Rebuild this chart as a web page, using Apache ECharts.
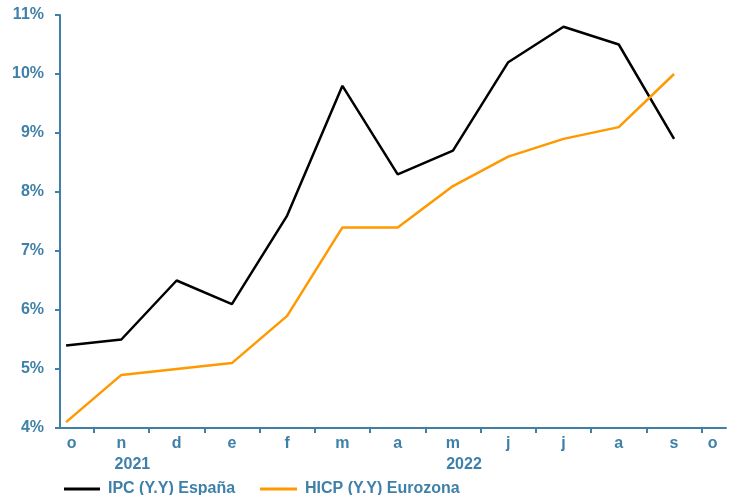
<!DOCTYPE html>
<html><head><meta charset="utf-8">
<script src="https://cdn.jsdelivr.net/npm/echarts@6/dist/echarts.min.js"></script>
<style>html,body{margin:0;padding:0;background:#fff}#c{width:733px;height:495px}</style>
</head><body><div id="c"></div>
<script>
const months = ['o','n','d','e','f','m','a','m','j','j','a','s','o'];
const ipcEspana = [5.4,5.5,6.5,6.1,7.6,9.8,8.3,8.7,10.2,10.8,10.5,8.9];
const hicpEurozona = [4.1,4.9,5.0,5.1,5.9,7.4,7.4,8.1,8.6,8.9,9.1,10.0];
const years = ['2021','2022'];
const yearPos = [1.2, 7.2];
const labelPos = [0.1,1,2,3,4,5,6,7,8,9,10,11,11.7];
const tickPos = [0.5,1.5,2.5,3.5,4.5,5.5,6.5,7.5,8.5,9.5,10.5,11.5];

const blue = '#3f80a8';
const font = {color: blue, fontWeight: 'bold', fontSize: 16, fontFamily: 'Liberation Sans, Arial, sans-serif'};
const chart = echarts.init(document.getElementById('c'));
chart.setOption({
  animation: false,
  grid: {left: 60, right: 7, top: 15, bottom: 67, outerBoundsMode: 'none'},
  xAxis: [{
    type: 'value', min: -0.11, max: 11.94,
    axisLine: {show: true, onZero: false, lineStyle: {color: blue, width: 2}},
    axisTick: {show: true, length: 5, lineStyle: {color: blue, width: 2}, customValues: tickPos},
    axisLabel: Object.assign({}, font, {margin: 8, customValues: labelPos,
      formatter: v => months[Math.round(v)]}),
    splitLine: {show: false}
  }, {
    type: 'value', min: -0.11, max: 11.94, position: 'bottom', offset: 21,
    axisLine: {show: false}, axisTick: {show: false}, splitLine: {show: false},
    axisLabel: Object.assign({}, font, {margin: 8, customValues: yearPos,
      formatter: v => years[yearPos.indexOf(v)]})
  }],
  yAxis: {
    type: 'value', min: 4, max: 11, interval: 1,
    axisLine: {show: true, onZero: false, lineStyle: {color: blue, width: 2}},
    axisTick: {show: true, length: 5, lineStyle: {color: blue, width: 2}},
    axisLabel: Object.assign({}, font, {margin: 16, formatter: v => v + '%'}),
    splitLine: {show: false}
  },
  legend: [{
    data: ['IPC (Y.Y) España'], left: 59, top: 476, icon: 'rect', itemWidth: 36, itemHeight: 3,
    textStyle: Object.assign({}, font, {padding: [0, 0, 0, 3]})
  }, {
    data: ['HICP (Y.Y) Eurozona'], left: 255, top: 476, icon: 'rect', itemWidth: 37, itemHeight: 3,
    textStyle: Object.assign({}, font, {padding: [0, 0, 0, 3]})
  }],
  series: [{
    name: 'IPC (Y.Y) España', type: 'line', symbol: 'none', color: '#000',
    lineStyle: {width: 2.5, color: '#000'},
    data: ipcEspana.map((v, i) => [i, v])
  }, {
    name: 'HICP (Y.Y) Eurozona', type: 'line', symbol: 'none', color: '#ff9900',
    lineStyle: {width: 2.5, color: '#ff9900'},
    data: hicpEurozona.map((v, i) => [i, v])
  }]
});
</script></body></html>
